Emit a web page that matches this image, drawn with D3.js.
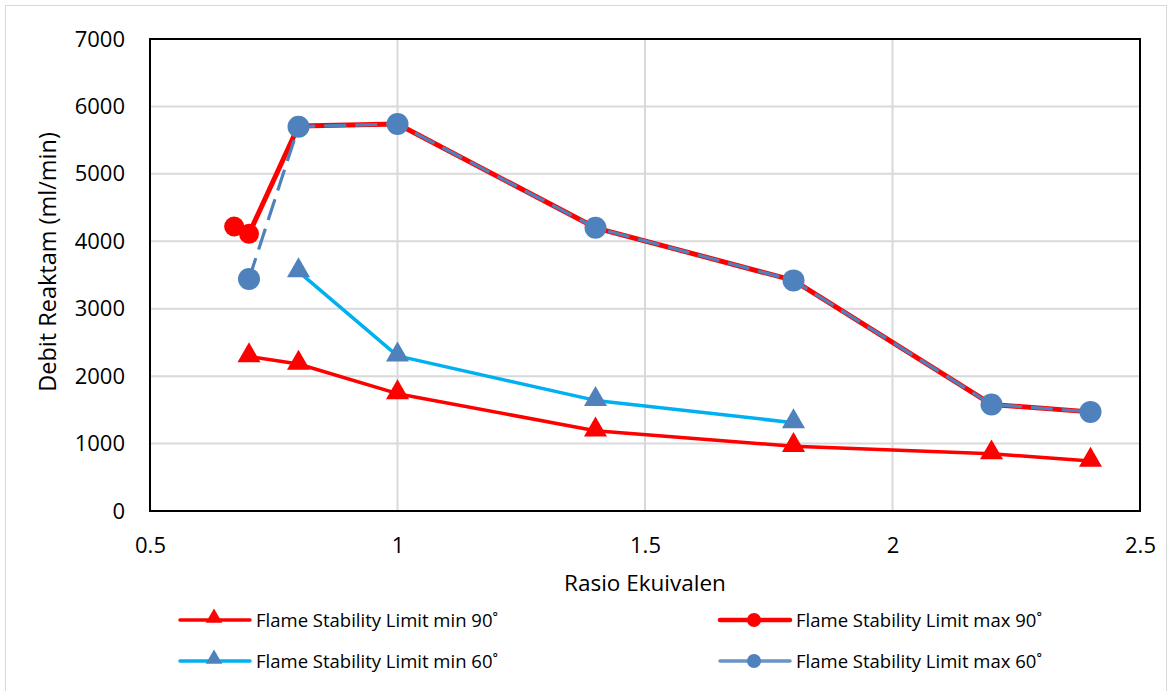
<!DOCTYPE html>
<html><head><meta charset="utf-8">
<script src="https://cdn.jsdelivr.net/npm/d3@7"></script>
<style>body{margin:0;background:#fff;} svg{display:block;font-family:"Open Sans","Noto Sans",sans-serif;}</style>
</head><body>
<svg id="c" width="1171" height="691"></svg>
<script>
const xMin90 = [0.7, 0.8, 1.0, 1.4, 1.8, 2.2, 2.4];
const yMin90 = [2290, 2180, 1740, 1190, 960, 850, 740];
const xMax90 = [0.67, 0.7, 0.8, 1.0, 1.4, 1.8, 2.2, 2.4];
const yMax90 = [4220, 4110, 5710, 5740, 4200, 3420, 1580, 1470];
const xMin60 = [0.8, 1.0, 1.4, 1.8];
const yMin60 = [3550, 2300, 1640, 1310];
const xMax60 = [0.7, 0.8, 1.0, 1.4, 1.8, 2.2, 2.4];
const yMax60 = [3440, 5700, 5740, 4200, 3420, 1580, 1470];
const xTicks = [0.5, 1, 1.5, 2, 2.5];
const yTicks = [0, 1000, 2000, 3000, 4000, 5000, 6000, 7000];
const seriesNames = ["Flame Stability Limit min 90˚", "Flame Stability Limit max 90˚", "Flame Stability Limit min 60˚", "Flame Stability Limit max 60˚"];

const svg = d3.select("#c");
const L = 150, R = 1140, T = 39, B = 511;
const x = d3.scaleLinear().domain([0.5, 2.5]).range([L, R]);
const y = d3.scaleLinear().domain([0, 7000]).range([B, T]);

// outer chart border
svg.append("rect").attr("x", 5.5).attr("y", 5.5).attr("width", 1161).attr("height", 690)
  .attr("fill", "none").attr("stroke", "#d9d9d9");

// gridlines
svg.append("g").selectAll("line").data(yTicks).join("line")
  .attr("x1", L).attr("x2", R).attr("y1", d => y(d)).attr("y2", d => y(d))
  .attr("stroke", "#d9d9d9").attr("stroke-width", 2);
svg.append("g").selectAll("line").data(xTicks).join("line")
  .attr("y1", T).attr("y2", B).attr("x1", d => x(d)).attr("x2", d => x(d))
  .attr("stroke", "#d9d9d9").attr("stroke-width", 2);

// frame
svg.append("rect").attr("x", L).attr("y", T).attr("width", R - L).attr("height", B - T)
  .attr("fill", "none").attr("stroke", "#000").attr("stroke-width", 2);

// axes
const yAxis = d3.axisLeft(y).tickValues(yTicks).tickSize(0).tickPadding(25).tickFormat(d3.format("d"));
const gy = svg.append("g").attr("transform", `translate(${L},0)`).call(yAxis);
gy.select(".domain").remove();
gy.selectAll("text").attr("font-size", 22).attr("fill", "#000").attr("font-family", "'Open Sans',sans-serif");

const xAxis = d3.axisBottom(x).tickValues(xTicks).tickSize(0).tickPadding(26).tickFormat(d => String(d));
const gx = svg.append("g").attr("transform", `translate(0,${B})`).call(xAxis);
gx.select(".domain").remove();
gx.selectAll("text").attr("font-size", 22).attr("fill", "#000").attr("font-family", "'Open Sans',sans-serif");

svg.append("text").attr("x", (L + R) / 2).attr("y", 591).attr("text-anchor", "middle")
  .attr("font-size", 22.5).text("Rasio Ekuivalen");
svg.append("text").attr("transform", `translate(56,262) rotate(-90)`).attr("text-anchor", "middle")
  .attr("font-size", 23.5).text("Debit Reaktam (ml/min)");

const line = d3.line().x(d => x(d[0])).y(d => y(d[1]));
const zip = (a, b) => a.map((v, i) => [v, b[i]]);
const tri = d3.symbol().type(d3.symbolTriangle).size(230);

const dMin90 = zip(xMin90, yMin90), dMax90 = zip(xMax90, yMax90), dMin60 = zip(xMin60, yMin60), dMax60 = zip(xMax60, yMax60);

// min 90
svg.append("path").datum(dMin90).attr("d", line).attr("fill", "none").attr("stroke", "#ff0000").attr("stroke-width", 3.5).attr("stroke-linejoin", "round");
svg.append("g").selectAll("path").data(dMin90).join("path")
  .attr("d", tri).attr("transform", d => `translate(${x(d[0])},${y(d[1]) - 1})`).attr("fill", "#ff0000");
// min 60
svg.append("path").datum(dMin60).attr("d", line).attr("fill", "none").attr("stroke", "#00b0f0").attr("stroke-width", 3.5).attr("stroke-linejoin", "round");
svg.append("g").selectAll("path").data(dMin60).join("path")
  .attr("d", tri).attr("transform", d => `translate(${x(d[0])},${y(d[1]) - 1})`).attr("fill", "#4f81bd");
// max 90
svg.append("path").datum(dMax90).attr("d", line).attr("fill", "none").attr("stroke", "#ff0000").attr("stroke-width", 5).attr("stroke-linejoin", "round");
svg.append("g").selectAll("circle").data(dMax90).join("circle")
  .attr("cx", d => x(d[0])).attr("cy", d => y(d[1])).attr("r", 10).attr("fill", "#ff0000");
// max 60
svg.append("path").datum(dMax60).attr("d", line).attr("fill", "none").attr("stroke", "#4f81bd").attr("stroke-width", 3.2).attr("stroke-dasharray", "22,9");
svg.append("g").selectAll("circle").data(dMax60).join("circle")
  .attr("cx", d => x(d[0])).attr("cy", d => y(d[1])).attr("r", 11).attr("fill", "#4f81bd");

// legend
const leg = [
  {x: 180, y: 620, c: "#ff0000", m: "#ff0000", t: "tri", dash: null, w: 3.5},
  {x: 720, y: 620, c: "#ff0000", m: "#ff0000", t: "circ", dash: null, w: 4.5},
  {x: 180, y: 661, c: "#00b0f0", m: "#4f81bd", t: "tri", dash: null, w: 3.5},
  {x: 720, y: 661, c: "#6a93c8", m: "#4f81bd", t: "circ", dash: "30,6,40", w: 3.5}
];
const lg = svg.append("g").selectAll("g").data(leg).join("g").attr("transform", d => `translate(${d.x},${d.y})`);
lg.append("line").attr("x1", 0).attr("x2", 70).attr("stroke", d => d.c).attr("stroke-width", d => d.w)
  .attr("stroke-dasharray", d => d.dash).attr("stroke-linecap", "round");
lg.filter(d => d.t === "tri").append("path").attr("d", d3.symbol().type(d3.symbolTriangle).size(120)).attr("transform", "translate(34,-2)").attr("fill", d => d.m);
lg.filter(d => d.t === "circ").append("circle").attr("cx", 34).attr("r", 7).attr("fill", d => d.m);
lg.append("text").attr("x", 76).attr("y", 6.5).attr("font-size", 18.5).text((d, i) => seriesNames[i]);
</script>
</body></html>
